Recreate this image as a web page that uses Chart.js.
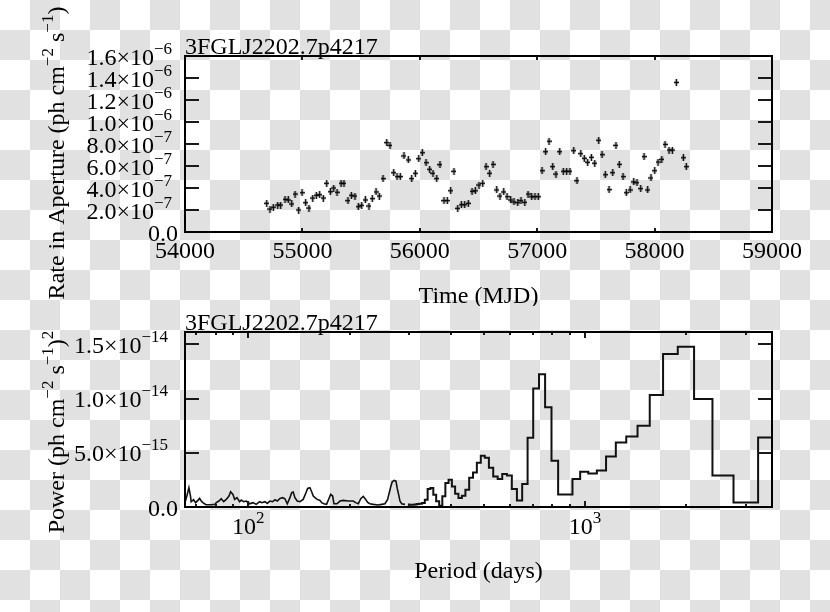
<!DOCTYPE html>
<html>
<head>
<meta charset="utf-8">
<script src="https://cdn.jsdelivr.net/npm/chart.js@4.4.1/dist/chart.umd.min.js"></script>
<style>
  html, body { margin: 0; padding: 0; }
  body {
    width: 830px; height: 612px; overflow: hidden; position: relative;
    background: repeating-conic-gradient(#e1e1e1 0 25%, #ffffff 0 50%) 0 0 / 60px 60px;
  }
  canvas { position: absolute; left: 0; }
</style>
</head>
<body>
<canvas id="lc" width="830" height="306" style="top:0"></canvas>
<canvas id="psd" width="830" height="306" style="top:306px"></canvas>
<script>
'use strict';

// ---- light curve (top panel) ----
const sourceName = '3FGLJ2202.7p4217';

const lcMjd = [
  54696, 54724, 54752, 54790, 54815, 54852, 54880, 54909, 54937, 54968,
  54997, 55028, 55056, 55088, 55118, 55147, 55178, 55207, 55238, 55267,
  55295, 55329, 55354, 55388, 55417, 55448, 55476, 55505, 55536, 55567,
  55595, 55627, 55655, 55687, 55718, 55746, 55778, 55806, 55834, 55865,
  55902, 55931, 55962, 55991, 56021, 56053, 56084, 56112, 56144, 56172,
  56206, 56234, 56263, 56291, 56323, 56354, 56382, 56413, 56445, 56473,
  56504, 56536, 56564, 56595, 56624, 56655, 56683, 56715, 56743, 56774,
  56802, 56834, 56862, 56894, 56922, 56953, 56981, 57009, 57041, 57072,
  57101, 57132, 57160, 57192, 57222, 57251, 57279, 57311, 57339, 57371,
  57401, 57430, 57461, 57490, 57524, 57552, 57580, 57612, 57643, 57671,
  57699, 57731, 57759, 57791, 57822, 57850, 57882, 57910, 57941, 57969,
  58001, 58029, 58061, 58089, 58123, 58151, 58185, 58245, 58270
];
const lcRate = [
  2.61e-7, 2.09e-7, 2.25e-7, 2.45e-7, 2.45e-7, 2.97e-7, 2.91e-7, 2.55e-7, 3.45e-7, 2.00e-7,
  3.57e-7, 2.66e-7, 2.18e-7, 3.09e-7, 3.34e-7, 3.39e-7, 3.09e-7, 4.43e-7, 3.66e-7, 4.00e-7,
  3.61e-7, 4.43e-7, 4.43e-7, 2.85e-7, 3.34e-7, 3.27e-7, 2.30e-7, 2.43e-7, 2.91e-7, 2.36e-7,
  3.03e-7, 3.64e-7, 3.27e-7, 4.85e-7, 8.12e-7, 7.88e-7, 5.39e-7, 5.03e-7, 5.03e-7, 6.91e-7,
  6.55e-7, 4.85e-7, 5.34e-7, 6.66e-7, 7.21e-7, 6.30e-7, 5.70e-7, 5.34e-7, 4.85e-7, 6.12e-7,
  2.85e-7, 2.85e-7, 3.75e-7, 5.52e-7, 2.15e-7, 2.48e-7, 2.48e-7, 2.61e-7, 3.70e-7, 3.75e-7,
  4.27e-7, 4.43e-7, 5.94e-7, 5.34e-7, 6.15e-7, 3.82e-7, 3.27e-7, 3.64e-7, 3.21e-7, 2.91e-7,
  2.73e-7, 2.66e-7, 2.85e-7, 2.70e-7, 3.45e-7, 3.21e-7, 3.21e-7, 3.21e-7, 5.57e-7, 7.30e-7,
  8.25e-7, 5.94e-7, 5.27e-7, 7.30e-7, 5.52e-7, 5.52e-7, 5.52e-7, 7.39e-7, 4.66e-7, 7.12e-7,
  6.70e-7, 6.34e-7, 6.79e-7, 6.25e-7, 8.34e-7, 7.03e-7, 5.21e-7, 3.85e-7, 5.39e-7, 7.88e-7,
  6.15e-7, 5.03e-7, 3.57e-7, 3.82e-7, 4.55e-7, 4.48e-7, 3.94e-7, 6.85e-7, 3.82e-7, 4.91e-7,
  5.57e-7, 6.36e-7, 6.61e-7, 7.97e-7, 7.45e-7, 7.45e-7, 1.36e-6, 6.75e-7, 5.94e-7
];
const lcXTicks = [54000, 55000, 56000, 57000, 58000, 59000];
const lcXLabels = ['54000', '55000', '56000', '57000', '58000', '59000'];
const lcYTicks = [0, 2e-7, 4e-7, 6e-7, 8e-7, 1e-6, 1.2e-6, 1.4e-6, 1.6e-6];
const lcYLabels = ['0.0', '2.0×10{−7}', '4.0×10{−7}', '6.0×10{−7}', '8.0×10{−7}',
  '1.0×10{−6}', '1.2×10{−6}', '1.4×10{−6}', '1.6×10{−6}'];

// ---- periodogram (bottom panel) ----
// dense short-period end
const periodsDense = [
  64.9, 65.75, 66.66, 67.34, 67.71, 68.83, 69.79, 70.89, 71.73, 72.51,
  73.37, 74.89, 77.48, 79.63, 80.35, 81.85, 83.14, 84.52, 86.05, 87.65,
  88.66, 90.08, 91.13, 92.57, 94.3, 95.33, 96.89, 98.65, 100.97, 103.3,
  105.6, 108.1, 109.8, 112.1, 113.9, 116.0, 118.2, 120.1, 122.0, 124.2,
  126.6, 128.5, 130.6, 133.0, 134.6, 136.0, 137.6, 139.8, 142.4, 145.6,
  148.4, 150.1, 152.5, 154.3, 156.0, 157.8, 160.3, 163.3, 165.2, 167.8,
  170.9, 173.7, 175.7, 178.1, 179.7, 183.4, 187.3, 191.5, 198.2, 205.0,
  208.4, 212.2, 216.1, 219.6, 223.2, 226.3, 229.8, 235.1, 243.3, 249.0,
  254.7, 259.4, 262.3, 265.3, 267.7, 271.4, 274.6, 277.0, 280.3, 282.2,
  285.5, 292.0
];
const powerDense = [
  0.40e-15, 1.04e-15, 1.78e-15, 1.04e-15, 0.49e-15, 0.67e-15, 0.40e-15, 0.61e-15, 0.79e-15, 0.55e-15,
  0.40e-15, 0.21e-15, 0.21e-15, 0.24e-15, 0.40e-15, 0.55e-15, 0.76e-15, 0.49e-15, 0.70e-15, 1.01e-15,
  1.41e-15, 1.16e-15, 0.70e-15, 0.86e-15, 0.49e-15, 0.64e-15, 0.49e-15, 0.55e-15, 0.30e-15, 0.40e-15,
  0.24e-15, 0.49e-15, 0.40e-15, 0.49e-15, 0.33e-15, 0.55e-15, 0.49e-15, 0.67e-15, 0.55e-15, 0.79e-15,
  0.86e-15, 0.76e-15, 0.30e-15, 0.86e-15, 1.32e-15, 1.38e-15, 0.86e-15, 0.55e-15, 0.49e-15, 0.70e-15,
  1.32e-15, 1.71e-15, 1.78e-15, 1.41e-15, 1.01e-15, 0.86e-15, 0.70e-15, 0.61e-15, 0.40e-15, 0.30e-15,
  0.24e-15, 0.79e-15, 1.16e-15, 1.01e-15, 0.30e-15, 0.30e-15, 0.55e-15, 0.61e-15, 0.55e-15, 0.55e-15,
  0.40e-15, 0.30e-15, 0.79e-15, 0.98e-15, 0.70e-15, 0.42e-15, 0.30e-15, 0.24e-15, 0.18e-15, 0.24e-15,
  0.30e-15, 0.70e-15, 1.32e-15, 1.93e-15, 2.33e-15, 2.45e-15, 2.39e-15, 1.71e-15, 1.01e-15, 0.55e-15,
  0.30e-15, 0.24e-15
];
// long-period end, one value per frequency bin (drawn as histogram steps)
const periodsBinned = [
  298, 303, 308, 314, 319, 325, 331, 338, 344, 351,
  358, 365, 373, 381, 389, 398, 407, 416, 426, 436,
  447, 459, 471, 484, 497, 511, 526, 542, 559, 577,
  596, 617, 639, 663, 688, 716, 745, 778, 813, 852,
  894.5, 942, 994, 1052, 1118, 1193, 1278, 1376, 1491, 1626,
  1789, 1988, 2236, 2556, 2982, 3578
];
const powerBinned = [
  0.24e-15, 0.21e-15, 0.21e-15, 0.24e-15, 0.28e-15, 0.30e-15, 0.37e-15, 0.67e-15, 1.66e-15, 1.75e-15,
  1.13e-15, 0.52e-15, 0.12e-15, 0.98e-15, 2.21e-15, 2.51e-15, 1.90e-15, 1.22e-15, 0.83e-15, 1.04e-15,
  1.59e-15, 2.70e-15, 3.19e-15, 4.08e-15, 4.72e-15, 4.54e-15, 3.62e-15, 2.82e-15, 2.58e-15, 3.04e-15,
  2.91e-15, 1.66e-15, 0.61e-15, 2.12e-15, 6.38e-15, 10.92e-15, 12.25e-15, 9.21e-15, 4.26e-15, 1.16e-15,
  1.16e-15, 2.58e-15, 3.25e-15, 3.09e-15, 3.37e-15, 4.66e-15, 5.95e-15, 6.50e-15, 7.49e-15, 10.34e-15,
  14.12e-15, 14.79e-15, 9.97e-15, 2.91e-15, 0.42e-15, 6.41e-15
];
const psdXMajor = [100, 1000];
const psdXLabels = ['10{2}', '10{3}'];
const psdXMinor = [70, 80, 90, 200, 300, 400, 500, 600, 700, 800, 900, 2000, 3000];
const psdYTicks = [0, 5e-15, 1e-14, 1.5e-14];
const psdYLabels = ['0.0', '5.0×10{−15}', '1.0×10{−14}', '1.5×10{−14}'];

// ---- text helpers (superscripts written as {..}) ----
const FONT = '"Liberation Serif", "Times New Roman", serif';
const MAIN = 24, SUP = 17, RISE = 11;

function parseRich(s) {
  return s.split(/(\{[^}]*\})/).filter(Boolean)
    .map(p => p[0] === '{' ? [p.slice(1, -1), true] : [p, false]);
}

function drawRich(ctx, s, x, y, align) {
  const parts = parseRich(s);
  const w = parts.map(([t, sup]) => {
    ctx.font = (sup ? SUP : MAIN) + 'px ' + FONT;
    return ctx.measureText(t).width;
  });
  const total = w.reduce((a, b) => a + b, 0);
  let cx = x - (align === 'right' ? total : align === 'center' ? total / 2 : 0);
  parts.forEach(([t, sup], i) => {
    ctx.font = (sup ? SUP : MAIN) + 'px ' + FONT;
    ctx.fillText(t, cx, sup ? y - RISE : y);
    cx += w[i];
  });
}

// box, inward ticks, labels and titles, placed with the chart's own scales
function frame(o) {
  return {
    id: 'frame',
    afterDraw(chart) {
      const { ctx, chartArea: a } = chart;
      const xs = chart.scales.x, ys = chart.scales.y;
      ctx.save();
      ctx.strokeStyle = '#1a1a1a';
      ctx.lineWidth = 2;
      ctx.beginPath();
      o.yTicks.forEach(v => {
        const py = Math.round(ys.getPixelForValue(v));
        ctx.moveTo(a.left, py); ctx.lineTo(a.left + 14, py);
        ctx.moveTo(a.right, py); ctx.lineTo(a.right - 14, py);
      });
      o.xTicks.forEach(([v, len]) => {
        const px = Math.round(xs.getPixelForValue(v));
        ctx.moveTo(px, a.bottom); ctx.lineTo(px, a.bottom - len);
        ctx.moveTo(px, a.top); ctx.lineTo(px, a.top + len);
      });
      ctx.stroke();
      ctx.strokeStyle = '#000';
      ctx.strokeRect(a.left, a.top, a.right - a.left, a.bottom - a.top);

      ctx.fillStyle = '#000';
      ctx.textBaseline = 'alphabetic';
      o.yLabels.forEach((s, i) => {
        const py = ys.getPixelForValue(o.yTicks[i]);
        const plain = s.indexOf('{') < 0;
        drawRich(ctx, s, plain ? 178 : o.yLabelRight, py + 8.5, 'right');
      });
      o.xLabels.forEach(([v, s]) => {
        drawRich(ctx, s, xs.getPixelForValue(v), o.xLabelBase, 'center');
      });
      drawRich(ctx, sourceName, a.left, a.top - 2, 'left');
      drawRich(ctx, o.xTitle, (a.left + a.right) / 2, o.xTitleBase, 'center');
      ctx.translate(64, o.yTitleMid);
      ctx.rotate(-Math.PI / 2);
      drawRich(ctx, o.yTitle, 0, 0, 'center');
      ctx.restore();
    }
  };
}

// small "+" marker like the error crosses of the light curve
const cross = document.createElement('canvas');
cross.width = 5; cross.height = 7;
(() => {
  const c = cross.getContext('2d');
  c.fillStyle = '#000';
  c.fillRect(1.75, 0, 1.5, 7);
  c.fillRect(0, 2.75, 5, 1.5);
})();

const common = {
  responsive: false,
  animation: false,
  devicePixelRatio: 1,
  plugins: { legend: { display: false }, tooltip: { enabled: false } }
};

new Chart(document.getElementById('lc'), {
  type: 'scatter',
  data: {
    datasets: [{
      data: lcMjd.map((x, i) => ({ x, y: lcRate[i] })),
      pointStyle: cross,
      pointRadius: 4
    }]
  },
  options: {
    ...common,
    layout: { padding: { left: 185, right: 58, top: 56, bottom: 74 }, autoPadding: false },
    scales: {
      x: { type: 'linear', display: false, min: 54000, max: 59000 },
      y: { type: 'linear', display: false, min: 0, max: 1.6e-6 }
    }
  },
  plugins: [frame({
    yTicks: lcYTicks,
    yLabels: lcYLabels,
    yLabelRight: 172,
    xTicks: lcXTicks.map(v => [v, 4]),
    xLabels: lcXTicks.map((v, i) => [v, lcXLabels[i]]),
    xLabelBase: 258,
    xTitle: 'Time (MJD)',
    xTitleBase: 303,
    yTitle: 'Rate in Aperture (ph cm{−2} s{−1})',
    yTitleMid: 153
  })]
});

new Chart(document.getElementById('psd'), {
  type: 'line',
  data: {
    datasets: [{
      data: periodsDense.map((x, i) => ({ x, y: powerDense[i] })),
      borderColor: '#111',
      borderWidth: 1.6,
      pointRadius: 0,
      tension: 0
    }, {
      data: periodsBinned.map((x, i) => ({ x, y: powerBinned[i] })),
      borderColor: '#111',
      borderWidth: 2,
      pointRadius: 0,
      stepped: 'middle'
    }]
  },
  options: {
    ...common,
    layout: { padding: { left: 185, right: 58, top: 26, bottom: 105 }, autoPadding: false },
    scales: {
      x: { type: 'logarithmic', display: false, min: 64.9, max: 3592 },
      y: { type: 'linear', display: false, min: 0, max: 1.614e-14 }
    }
  },
  plugins: [frame({
    yTicks: psdYTicks,
    yLabels: psdYLabels,
    yLabelRight: 168,
    xTicks: psdXMajor.map(v => [v, 6]).concat(psdXMinor.map(v => [v, 3])),
    xLabels: psdXMajor.map((v, i) => [v, psdXLabels[i]]),
    xLabelBase: 228,
    xTitle: 'Period (days)',
    xTitleBase: 272,
    yTitle: 'Power (ph cm{−2} s{−1}){2}',
    yTitleMid: 126
  })]
});
</script>
</body>
</html>
